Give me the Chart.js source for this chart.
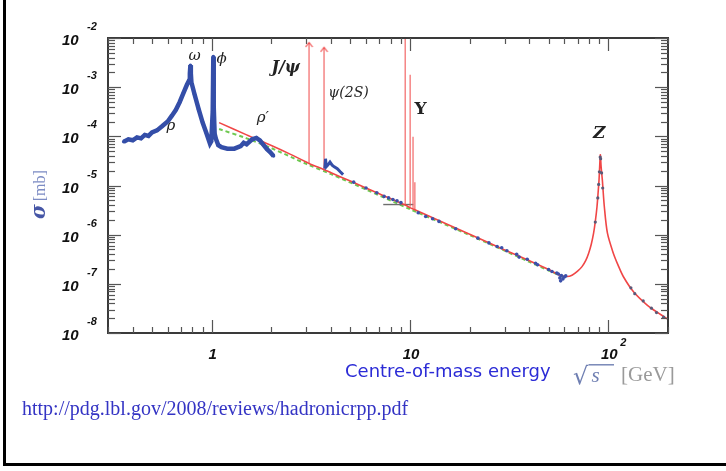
<!DOCTYPE html>
<html>
<head>
<meta charset="utf-8">
<script src="https://cdn.jsdelivr.net/npm/chart.js@4"></script>
<style>
  body { margin: 0; background: #fff; }
  #pagina { position: relative; width: 726px; height: 471px; overflow: hidden; }
  #moldura { position: absolute; left: 3px; top: -4px; width: 740px; height: 467px;
             border-left: 3px solid #000; border-bottom: 3px solid #000; }
  #grafico { position: absolute; left: 0; top: 0; }
  #fonte { position: absolute; left: 22px; top: 396px; font: 20px "Liberation Serif", serif;
           color: #3434c4; line-height: 24px; }
</style>
</head>
<body>
<div id="pagina">
  <div id="moldura"></div>
  <canvas id="grafico" width="726" height="471"></canvas>
  <div id="fonte">http://pdg.lbl.gov/2008/reviews/hadronicrpp.pdf</div>
</div>
<script>
// Dados (energia em GeV, sigma em mb)
const energiaBaixa = [0.36, 0.38, 0.40, 0.42, 0.44, 0.46, 0.48, 0.50, 0.53, 0.56, 0.60, 0.63, 0.66, 0.69, 0.72, 0.75, 0.77, 0.776, 0.781, 0.785, 0.79, 0.82, 0.86, 0.90, 0.94, 0.98, 0.995, 1.012, 1.019, 1.024, 1.035, 1.05, 1.08, 1.12, 1.2, 1.3, 1.4, 1.45, 1.5, 1.6, 1.68, 1.75, 1.82, 1.9, 1.97, 2.05];
const sigmaBaixa = [7.8e-5, 8.7e-5, 8.3e-5, 9.5e-5, 9.1e-5, 1.07e-4, 1.02e-4, 1.2e-4, 1.32e-4, 1.58e-4, 2.0e-4, 2.63e-4, 3.47e-4, 5.0e-4, 7.6e-4, 1.12e-3, 1.38e-3, 1.9e-3, 2.8e-3, 1.9e-3, 1.26e-3, 7.1e-4, 3.55e-4, 1.9e-4, 1.17e-4, 7.1e-5, 7.9e-5, 3.2e-4, 4.2e-3, 4.0e-4, 1.12e-4, 8.9e-5, 6.6e-5, 6.0e-5, 5.6e-5, 5.6e-5, 6.3e-5, 7.4e-5, 6.9e-5, 8.7e-5, 9.3e-5, 8.3e-5, 6.8e-5, 5.5e-5, 4.8e-5, 4.0e-5];

const energiaPsi = [3.72, 3.75, 3.78, 3.85, 3.95, 4.05, 4.15, 4.3, 4.45, 4.6];
const sigmaPsi = [2.2e-5, 3.5e-5, 2.4e-5, 2.6e-5, 3.0e-5, 2.6e-5, 2.4e-5, 2.2e-5, 1.9e-5, 1.66e-5];

const energiaPontos = [5.2, 6.0, 6.8, 7.4, 7.8, 8.2, 8.6, 9.0, 11.0, 12.0, 13.0, 14.0, 17.0, 22.0, 25.0, 27.5, 29.0, 30.8, 34.5, 35.5, 39.0, 43.0, 44.0, 50.0, 52.0, 55.0, 56.0, 57.0, 57.5, 58.0, 59.0, 60.0, 61.0];
const sigmaPontos = [1.17e-5, 8.9e-6, 7.1e-6, 6.0e-6, 5.6e-6, 5.2e-6, 4.9e-6, 4.5e-6, 2.8e-6, 2.34e-6, 2.1e-6, 1.86e-6, 1.32e-6, 8.5e-7, 6.8e-7, 5.75e-7, 5.4e-7, 4.7e-7, 4.0e-7, 3.5e-7, 3.16e-7, 2.63e-7, 2.45e-7, 1.95e-7, 1.78e-7, 1.66e-7, 1.58e-7, 1.32e-7, 1.15e-7, 1.48e-7, 1.26e-7, 1.38e-7, 1.45e-7];

const energiaZ = [86, 88.5, 89.4, 90.2, 91.0, 91.5, 92.5, 93.7, 130, 136, 150, 165, 175, 190];
const sigmaZ = [1.8e-6, 5.6e-6, 1.05e-5, 1.9e-5, 3.8e-5, 3.5e-5, 1.8e-5, 8.9e-6, 8.3e-8, 6.3e-8, 4.5e-8, 3.2e-8, 2.6e-8, 2.1e-8];

const energiaAjuste = [1.09, 1.5, 2.0, 2.5, 3.0, 3.097, 3.686, 4.0, 5.0, 7.0, 9.46, 10.0, 10.58, 15, 20, 30, 40, 50, 57, 62, 65.6, 70, 73.7, 77, 79.6, 82, 84.3, 86, 87.7, 89, 89.8, 90.6, 91.2, 92, 93.3, 95.5, 99, 106, 112, 119, 134, 157, 180, 200];
const sigmaAjuste = [1.9e-4, 1.07e-4, 6.5e-5, 4.3e-5, 3.0e-5, 2.8e-5, 2.1e-5, 1.82e-5, 1.23e-5, 6.8e-6, 4.0e-6, 3.55e-6, 3.2e-6, 1.7e-6, 1.02e-6, 4.9e-7, 2.95e-7, 1.95e-7, 1.5e-7, 1.41e-7, 1.5e-7, 1.82e-7, 2.24e-7, 3.0e-7, 4.2e-7, 6.3e-7, 1.07e-6, 1.86e-6, 3.7e-6, 7.9e-6, 1.3e-5, 2.8e-5, 4.2e-5, 2.4e-5, 1.3e-5, 3.7e-6, 1.07e-6, 4.2e-7, 2.4e-7, 1.41e-7, 6.9e-8, 3.7e-8, 2.5e-8, 1.9e-8];

const energiaVerde = [1.09, 1.5, 2.0, 3.0, 4.0, 6.0, 10.0, 20.0, 40.0, 60.0];
const sigmaVerde = [1.41e-4, 9.1e-5, 5.75e-5, 2.75e-5, 1.7e-5, 8.3e-6, 3.3e-6, 9.8e-7, 2.8e-7, 1.35e-7];

// Ressonâncias estreitas: energia, base e topo da linha vertical
const energiaPicos = [3.097, 3.686, 9.46, 10.02, 10.36, 10.58];
const basePicos = [2.8e-5, 2.1e-5, 4.0e-6, 3.7e-6, 3.4e-6, 3.2e-6];
const topoPicos = [7.9e-3, 6.3e-3, 1.0e-2, 1.78e-3, 9.8e-5, 1.17e-5];
const setaPicos = [true, true, false, false, false, false];

// Segmento cinza perto da Upsilon
const energiaCinza = [7.33, 10.4];
const sigmaCinza = [4.1e-6, 4.1e-6];

// Eixos
const xTicksMaiores = [1, 10, 100];
const xRotulosBase = ['1', '10', '10'];
const xRotulosExp = ['', '', '2'];
const yTicksMaiores = [1e-2, 1e-3, 1e-4, 1e-5, 1e-6, 1e-7, 1e-8];
const yRotulosExp = ['-2', '-3', '-4', '-5', '-6', '-7', '-8'];

// Rótulos das ressonâncias (posição em coordenadas dos dados)
const rotulos = [
  { txt: 'ω', e: 0.821, s: 4.3e-3, font: 'italic 15px "DejaVu Serif"' },
  { txt: 'ϕ', e: 1.123, s: 3.74e-3, font: 'italic 15px "DejaVu Serif"' },
  { txt: 'ρ', e: 0.622, s: 1.63e-4, font: 'italic 15px "DejaVu Serif"' },
  { txt: 'ρ′', e: 1.81, s: 2.37e-4, font: 'italic 15px "DejaVu Serif"' },
  { txt: 'J/ψ', e: 2.36, s: 2.45e-3, font: 'bold italic 16px "DejaVu Serif"' },
  { txt: 'ψ(2S)', e: 4.90, s: 7.6e-4, font: 'italic 14px "DejaVu Serif"' },
  { txt: 'Υ', e: 11.3, s: 3.44e-4, font: 'bold 17px "DejaVu Serif"' },
  { txt: 'Z', e: 90.1, s: 1.12e-4, font: 'bold italic 17px "DejaVu Serif"' }
];

function pares(xs, ys) {
  return xs.map((v, i) => ({ x: v, y: ys[i] }));
}

// Pequena seta "^" usada no topo das linhas J/psi e psi(2S)
function criarSeta() {
  const c = document.createElement('canvas');
  c.width = 9; c.height = 12;
  const g = c.getContext('2d');
  g.strokeStyle = 'rgba(240,60,60,0.9)';
  g.lineWidth = 1.2;
  g.beginPath();
  g.moveTo(1, 10); g.lineTo(4.5, 5.5); g.lineTo(8, 10);
  g.stroke();
  return c;
}

function montarDatasets() {
  const seta = criarSeta();
  const sets = [];

  sets.push({
    label: 'dados baixa energia', data: pares(energiaBaixa, sigmaBaixa),
    borderColor: 'rgb(52,78,168)', borderWidth: 4.5, pointRadius: 1.8,
    pointBackgroundColor: 'rgb(52,78,168)', pointBorderWidth: 0, order: 1
  });
  sets.push({
    label: 'dados psi', data: pares(energiaPsi, sigmaPsi),
    borderColor: 'rgb(52,78,168)', borderWidth: 3, pointRadius: 0, order: 1
  });
  sets.push({
    label: 'pontos', data: pares(energiaPontos, sigmaPontos), showLine: false,
    pointRadius: 1.8, pointBorderWidth: 0, pointBackgroundColor: 'rgb(60,80,170)', order: 1
  });
  sets.push({
    label: 'pontos Z', data: pares(energiaZ, sigmaZ), showLine: false,
    pointRadius: 1.6, pointBorderWidth: 0, pointBackgroundColor: 'rgb(90,90,120)', order: 2
  });
  sets.push({
    label: 'ajuste', data: pares(energiaAjuste, sigmaAjuste),
    borderColor: 'rgb(240,70,70)', borderWidth: 1.6, pointRadius: 0, tension: 0.3, order: 3
  });
  energiaPicos.forEach((e, i) => {
    sets.push({
      label: 'pico ' + i, data: [{ x: e, y: basePicos[i] }, { x: e, y: topoPicos[i] }],
      borderColor: 'rgba(240,80,80,0.75)', borderWidth: 1.4,
      pointRadius: setaPicos[i] ? [0, 5] : 0, pointStyle: seta, order: 4
    });
  });
  sets.push({
    label: 'cinza', data: pares(energiaCinza, sigmaCinza),
    borderColor: 'rgb(110,110,110)', borderWidth: 1.4, pointRadius: 0, order: 4
  });
  sets.push({
    label: 'ajuste verde', data: pares(energiaVerde, sigmaVerde),
    borderColor: 'rgb(110,200,80)', borderWidth: 2, borderDash: [4, 3],
    pointRadius: 0, tension: 0.3, order: 5
  });
  return sets;
}

// Moldura, ticks para dentro e textos
const decoracao = {
  id: 'decoracao',
  afterDatasetsDraw(chart) {
    const { ctx, chartArea: a, scales: { x, y } } = chart;
    ctx.save();

    ctx.strokeStyle = '#3a3a3a';
    ctx.lineWidth = 2;
    ctx.strokeRect(a.left, a.top, a.right - a.left, a.bottom - a.top);

    const linha = (x1, y1, x2, y2) => {
      ctx.beginPath(); ctx.moveTo(x1, y1); ctx.lineTo(x2, y2); ctx.stroke();
    };
    ctx.lineWidth = 1.2;
    ctx.strokeStyle = '#555';

    // ticks do eixo x
    [0.1, 1, 10, 100].forEach(dec => {
      for (let k = 1; k <= 9; k++) {
        const v = dec * k;
        if (v < 0.3 || v > 200) continue;
        const px = Math.round(x.getPixelForValue(v)) + 0.5;
        const len = k === 1 ? 13 : 6;
        linha(px, a.bottom, px, a.bottom - len);
        linha(px, a.top, px, a.top + len);
      }
    });
    // ticks do eixo y
    yTicksMaiores.forEach(dec => {
      for (let k = 1; k <= 9; k++) {
        const v = dec * k;
        if (v > 1e-2) continue;
        const py = Math.round(y.getPixelForValue(v)) + 0.5;
        const len = k === 1 ? 13 : 7;
        linha(a.left, py, a.left + len, py);
        linha(a.right, py, a.right - len, py);
      }
    });

    // rótulos do eixo y
    ctx.fillStyle = '#111';
    ctx.textBaseline = 'middle';
    yTicksMaiores.forEach((v, i) => {
      const py = y.getPixelForValue(v);
      ctx.font = 'bold italic 15px "Liberation Sans"';
      ctx.textAlign = 'left';
      ctx.fillText('10', 62, py + 3);
      ctx.font = 'bold italic 11px "Liberation Sans"';
      ctx.fillText(yRotulosExp[i], 87, py - 11);
    });
    // rótulos do eixo x
    xTicksMaiores.forEach((v, i) => {
      const px = x.getPixelForValue(v);
      ctx.font = 'bold italic 15px "Liberation Sans"';
      ctx.textAlign = 'center';
      ctx.fillText(xRotulosBase[i], px + 1, 355);
      if (xRotulosExp[i]) {
        ctx.font = 'bold italic 11px "Liberation Sans"';
        ctx.fillText(xRotulosExp[i], px + 15, 343);
      }
    });

    // rótulos das ressonâncias
    ctx.textAlign = 'center';
    rotulos.forEach(r => {
      ctx.font = r.font;
      ctx.fillStyle = '#222';
      ctx.fillText(r.txt, x.getPixelForValue(r.e), y.getPixelForValue(r.s));
    });

    // título do eixo x
    ctx.textAlign = 'left';
    ctx.font = '18px "DejaVu Sans"';
    ctx.fillStyle = '#2b2bd6';
    ctx.fillText('Centre-of-mass energy', 345, 372);

    // raiz de s: o traço de cima sai do topo do símbolo
    ctx.textBaseline = 'alphabetic';
    ctx.font = '24px "DejaVu Serif"';
    ctx.fillStyle = '#6f7fb2';
    ctx.fillText('√', 573, 384);
    const m = ctx.measureText('√');
    const topo = 384 - m.actualBoundingBoxAscent + 0.8;
    const dir = 573 + m.actualBoundingBoxRight - 0.5;
    ctx.strokeStyle = '#6f7fb2';
    ctx.lineWidth = 1.4;
    linha(dir, topo, 614, topo);
    ctx.font = 'italic 21px "Liberation Serif"';
    ctx.fillText('s', dir + 3, 382);
    ctx.font = '21px "Liberation Serif"';
    ctx.fillStyle = '#9a9a9a';
    ctx.fillText('[GeV]', 621, 381);

    // título do eixo y
    ctx.textBaseline = 'middle';
    ctx.translate(40, 219);
    ctx.rotate(-Math.PI / 2);
    ctx.font = 'bold italic 20px "DejaVu Serif"';
    ctx.fillStyle = '#4656a6';
    ctx.fillText('σ', 0, 0);
    const w = ctx.measureText('σ').width;
    ctx.font = '16px "Liberation Serif"';
    ctx.fillStyle = '#7d8cc4';
    ctx.fillText('[mb]', w + 3, 1);

    ctx.restore();
  }
};

window.addEventListener('DOMContentLoaded', () => {
  new Chart(document.getElementById('grafico'), {
    type: 'line',
    data: { datasets: montarDatasets() },
    options: {
      responsive: false,
      animation: false,
      devicePixelRatio: 1,
      layout: { padding: { left: 108, right: 58, top: 38, bottom: 138 } },
      plugins: { legend: { display: false }, tooltip: { enabled: false } },
      scales: {
        x: { type: 'logarithmic', min: 0.3, max: 200, display: false },
        y: { type: 'logarithmic', min: 1e-8, max: 1e-2, display: false }
      }
    },
    plugins: [decoracao]
  });
});
</script>
</body>
</html>
